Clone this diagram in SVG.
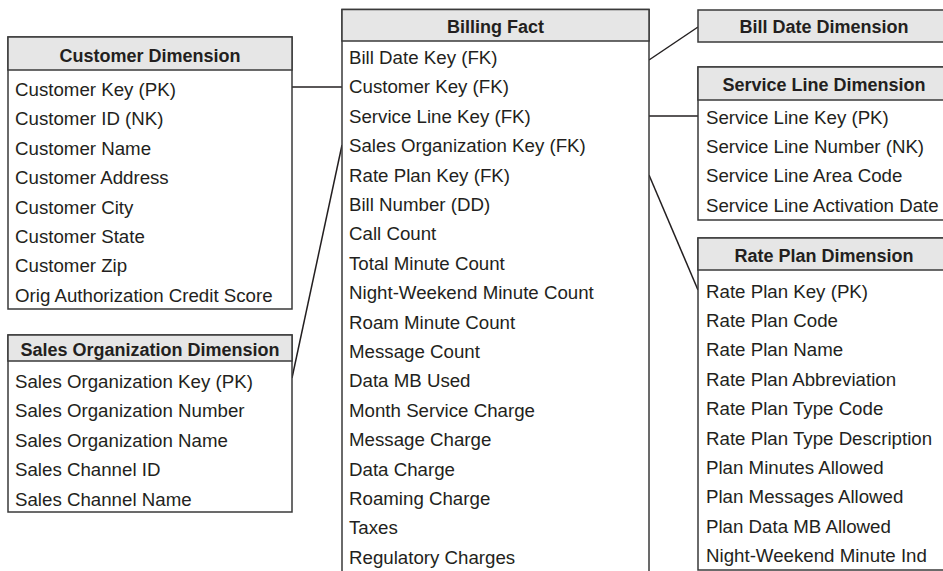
<svg xmlns="http://www.w3.org/2000/svg" width="943" height="571" viewBox="0 0 943 571">
<style>
.box{fill:#fff;stroke:#3a3a3a;stroke-width:1.5}
.hdr{fill:#e6e6e6;stroke:#3a3a3a;stroke-width:1.5}
.ht{font-family:"Liberation Sans",Arial,sans-serif;font-weight:bold;font-size:18px;fill:#231f20;text-anchor:middle}
.rt{font-family:"Liberation Sans",Arial,sans-serif;font-size:18.7px;fill:#231f20}
.conn line{stroke:#231f20;stroke-width:1.5}
</style>
<rect width="943" height="571" fill="#fff"/>
<g class="conn">
<line x1="292" y1="87" x2="342" y2="87"/>
<line x1="292" y1="378" x2="342" y2="145"/>
<line x1="649" y1="60" x2="698" y2="27"/>
<line x1="649" y1="116" x2="698" y2="116"/>
<line x1="649" y1="175" x2="698" y2="290"/>
</g>
<g id="customer-dimension">
<rect class="box" x="8" y="37" width="284" height="272"/>
<rect class="hdr" x="8" y="37" width="284" height="33"/>
<text class="ht" x="150" y="62">Customer Dimension</text>
<text class="rt" x="15" y="96">Customer Key (PK)</text>
<text class="rt" x="15" y="125.4">Customer ID (NK)</text>
<text class="rt" x="15" y="154.8">Customer Name</text>
<text class="rt" x="15" y="184.2">Customer Address</text>
<text class="rt" x="15" y="213.6">Customer City</text>
<text class="rt" x="15" y="243">Customer State</text>
<text class="rt" x="15" y="272.4">Customer Zip</text>
<text class="rt" x="15" y="301.8">Orig Authorization Credit Score</text>
</g>
<g id="sales-organization-dimension">
<rect class="box" x="8" y="335" width="284" height="177"/>
<rect class="hdr" x="8" y="335" width="284" height="26"/>
<text class="ht" x="150" y="356">Sales Organization Dimension</text>
<text class="rt" x="15" y="388">Sales Organization Key (PK)</text>
<text class="rt" x="15" y="417.4">Sales Organization Number</text>
<text class="rt" x="15" y="446.8">Sales Organization Name</text>
<text class="rt" x="15" y="476.2">Sales Channel ID</text>
<text class="rt" x="15" y="505.6">Sales Channel Name</text>
</g>
<g id="billing-fact">
<rect class="box" x="342" y="9.5" width="307" height="570"/>
<rect class="hdr" x="342" y="9.5" width="307" height="31.5"/>
<text class="ht" x="495.5" y="33">Billing Fact</text>
<text class="rt" x="349" y="64">Bill Date Key (FK)</text>
<text class="rt" x="349" y="93.4">Customer Key (FK)</text>
<text class="rt" x="349" y="122.8">Service Line Key (FK)</text>
<text class="rt" x="349" y="152.2">Sales Organization Key (FK)</text>
<text class="rt" x="349" y="181.6">Rate Plan Key (FK)</text>
<text class="rt" x="349" y="211">Bill Number (DD)</text>
<text class="rt" x="349" y="240.4">Call Count</text>
<text class="rt" x="349" y="269.8">Total Minute Count</text>
<text class="rt" x="349" y="299.2">Night-Weekend Minute Count</text>
<text class="rt" x="349" y="328.6">Roam Minute Count</text>
<text class="rt" x="349" y="358">Message Count</text>
<text class="rt" x="349" y="387.4">Data MB Used</text>
<text class="rt" x="349" y="416.8">Month Service Charge</text>
<text class="rt" x="349" y="446.2">Message Charge</text>
<text class="rt" x="349" y="475.6">Data Charge</text>
<text class="rt" x="349" y="505">Roaming Charge</text>
<text class="rt" x="349" y="534.4">Taxes</text>
<text class="rt" x="349" y="563.8">Regulatory Charges</text>
</g>
<g id="bill-date-dimension">
<rect class="hdr" x="698" y="10" width="252" height="32"/>
<text class="ht" x="824" y="33">Bill Date Dimension</text>
</g>
<g id="service-line-dimension">
<rect class="box" x="698" y="67" width="252" height="153"/>
<rect class="hdr" x="698" y="67" width="252" height="33"/>
<text class="ht" x="824" y="91">Service Line Dimension</text>
<text class="rt" x="706" y="123.5">Service Line Key (PK)</text>
<text class="rt" x="706" y="152.9">Service Line Number (NK)</text>
<text class="rt" x="706" y="182.3">Service Line Area Code</text>
<text class="rt" x="706" y="211.7">Service Line Activation Date</text>
</g>
<g id="rate-plan-dimension">
<rect class="box" x="698" y="238" width="252" height="332"/>
<rect class="hdr" x="698" y="238" width="252" height="32"/>
<text class="ht" x="824" y="262">Rate Plan Dimension</text>
<text class="rt" x="706" y="297.5">Rate Plan Key (PK)</text>
<text class="rt" x="706" y="326.9">Rate Plan Code</text>
<text class="rt" x="706" y="356.3">Rate Plan Name</text>
<text class="rt" x="706" y="385.7">Rate Plan Abbreviation</text>
<text class="rt" x="706" y="415.1">Rate Plan Type Code</text>
<text class="rt" x="706" y="444.5">Rate Plan Type Description</text>
<text class="rt" x="706" y="473.9">Plan Minutes Allowed</text>
<text class="rt" x="706" y="503.3">Plan Messages Allowed</text>
<text class="rt" x="706" y="532.7">Plan Data MB Allowed</text>
<text class="rt" x="706" y="562.1">Night-Weekend Minute Ind</text>
</g>
</svg>
